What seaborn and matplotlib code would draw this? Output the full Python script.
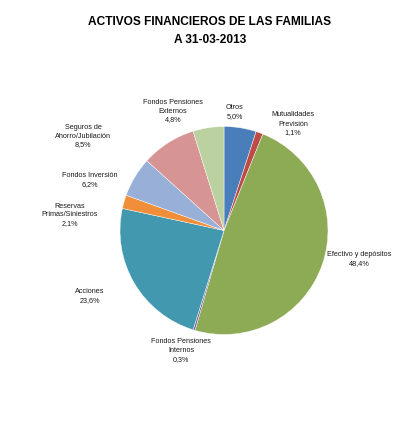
import matplotlib
matplotlib.use("Agg")
import matplotlib.pyplot as plt
import seaborn as sns

categories = ["Otros", "Mutualidades\nPrevisión", "Efectivo y depósitos",
              "Fondos Pensiones\nInternos", "Acciones", "Reservas\nPrimas/Siniestros",
              "Fondos Inversión", "Seguros de\nAhorro/Jubilación",
              "Fondos Pensiones\nExternos"]
values = [5.0, 1.1, 48.4, 0.3, 23.6, 2.1, 6.2, 8.5, 4.8]
pct_labels = ["5,0%", "1,1%", "48,4%", "0,3%", "23,6%", "2,1%", "6,2%", "8,5%", "4,8%"]
colors = ["#4A7EBB", "#BE4B48", "#8DAA54", "#7E62A0", "#4198AF", "#F08E3A",
          "#98B0D8", "#D69594", "#BCD1A0"]
title_lines = ["ACTIVOS FINANCIEROS DE LAS FAMILIAS", "A 31-03-2013"]

# label positions (pixel centres in the 417x431 image)
label_px = [(235, 112), (293, 124), (359, 259), (181, 351), (90, 296),
            (70, 215), (90, 180), (83, 136), (173, 111)]

sns.set_theme(style="white")
plt.rcParams['font.family'] = ['Liberation Sans', 'DejaVu Sans']

W, H = 417, 431
fig = plt.figure(figsize=(W / 100, H / 100), dpi=100)
cx, cy, r = 224, 231.5, 104
ax = fig.add_axes([(cx - r) / W, (H - cy - r) / H, 2 * r / W, 2 * r / H])
palette = sns.color_palette(colors)
ax.pie(values, colors=palette, startangle=90, counterclock=False,
       wedgeprops=dict(edgecolor="white", linewidth=0.3))
ax.set_xlim(-1, 1)
ax.set_ylim(-1, 1)
ax.set_aspect("equal")
ax.axis("off")

for cat, pct, (px, py) in zip(categories, pct_labels, label_px):
    ax.text((px - cx) / r, (cy - py) / r, f"{cat}\n{pct}", ha="center", va="center",
            fontsize=5.2, color="#1a1a1a", clip_on=False, linespacing=1.4)

fig.text(210 / W, 1 - 22 / H, title_lines[0], ha="center", va="center",
         fontsize=8.6, fontweight="bold", color="black")
fig.text(210 / W, 1 - 40 / H, title_lines[1], ha="center", va="center",
         fontsize=8.6, fontweight="bold", color="black")

fig.savefig("out.png", dpi=100)
